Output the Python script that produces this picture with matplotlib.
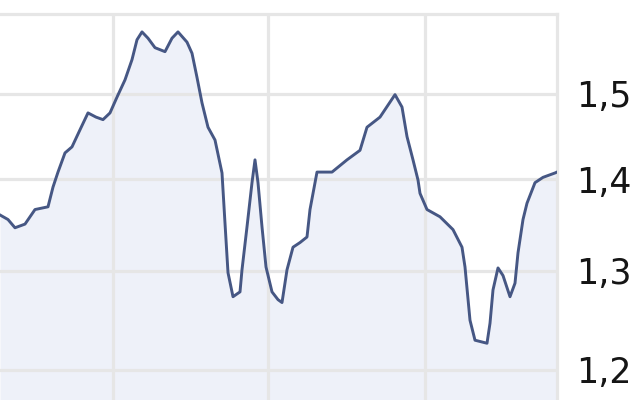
import matplotlib.pyplot as plt
import numpy as np

# position along the time axis and price (log scale)
days = [0, 8, 15, 25, 35, 48, 53, 58, 65, 72, 80, 88, 96, 103, 110, 117, 125,
        132, 137, 142, 148, 155, 165, 172, 178, 187, 192, 197, 202, 208, 215,
        222, 225, 228, 233, 240, 242, 247, 252, 255, 258, 262, 266, 272, 278,
        282, 287, 293, 300, 307, 310, 317, 332, 347, 360, 367, 380, 395, 402,
        407, 413, 418, 420, 427, 440, 453, 462, 465, 470, 475, 487, 490, 493,
        498, 503, 510, 515, 518, 523, 527, 535, 543, 555, 557]
price = [1.360, 1.355, 1.346, 1.350, 1.366, 1.369, 1.391, 1.408, 1.430, 1.437,
         1.457, 1.477, 1.472, 1.469, 1.477, 1.496, 1.517, 1.542, 1.567, 1.577,
         1.569, 1.557, 1.552, 1.569, 1.577, 1.564, 1.550, 1.520, 1.489, 1.460,
         1.445, 1.407, 1.351, 1.298, 1.273, 1.278, 1.301, 1.347, 1.396, 1.422,
         1.396, 1.347, 1.304, 1.278, 1.270, 1.267, 1.301, 1.325, 1.330, 1.336,
         1.366, 1.408, 1.408, 1.422, 1.433, 1.460, 1.472, 1.499, 1.484, 1.449,
         1.422, 1.399, 1.384, 1.366, 1.358, 1.344, 1.325, 1.304, 1.249, 1.229,
         1.226, 1.246, 1.280, 1.303, 1.295, 1.273, 1.287, 1.319, 1.355, 1.373,
         1.396, 1.402, 1.407, 1.408]

y_ticks = [1.2, 1.3, 1.4, 1.5]
y_labels = ['1,2', '1,3', '1,4', '1,5']
x_grid = [113, 268, 425]

grid_col = '#e6e6e6'
line_col = '#465784'
fill_col = '#eef1f9'

fig = plt.figure(figsize=(6.4, 4), dpi=100)
ax = fig.add_axes([0, 0, 557 / 640, 1 - 14 / 400])

ymin, ymax = 1.171, 1.6
ax.set_yscale('log')
ax.fill_between(days, price, ymin, color=fill_col, lw=0, zorder=1)
ax.plot(days, price, color=line_col, lw=2.1, zorder=3)

ax.set_xlim(0, 557)
ax.set_ylim(ymin, ymax)

ax.set_yticks(y_ticks)
ax.set_yticklabels(y_labels)
ax.yaxis.set_minor_locator(plt.NullLocator())
ax.yaxis.tick_right()
ax.set_xticks(x_grid)
ax.set_xticklabels([])
ax.tick_params(axis='both', length=0)
ax.tick_params(axis='y', pad=14, labelsize=25, labelcolor='#151515')

ax.set_axisbelow('line')
ax.grid(True, color=grid_col, lw=2.3)

for s in ['left', 'bottom']:
    ax.spines[s].set_visible(False)
for s in ['top', 'right']:
    ax.spines[s].set_color(grid_col)
    ax.spines[s].set_linewidth(2.3)

fig.savefig('out.png', dpi=100)
